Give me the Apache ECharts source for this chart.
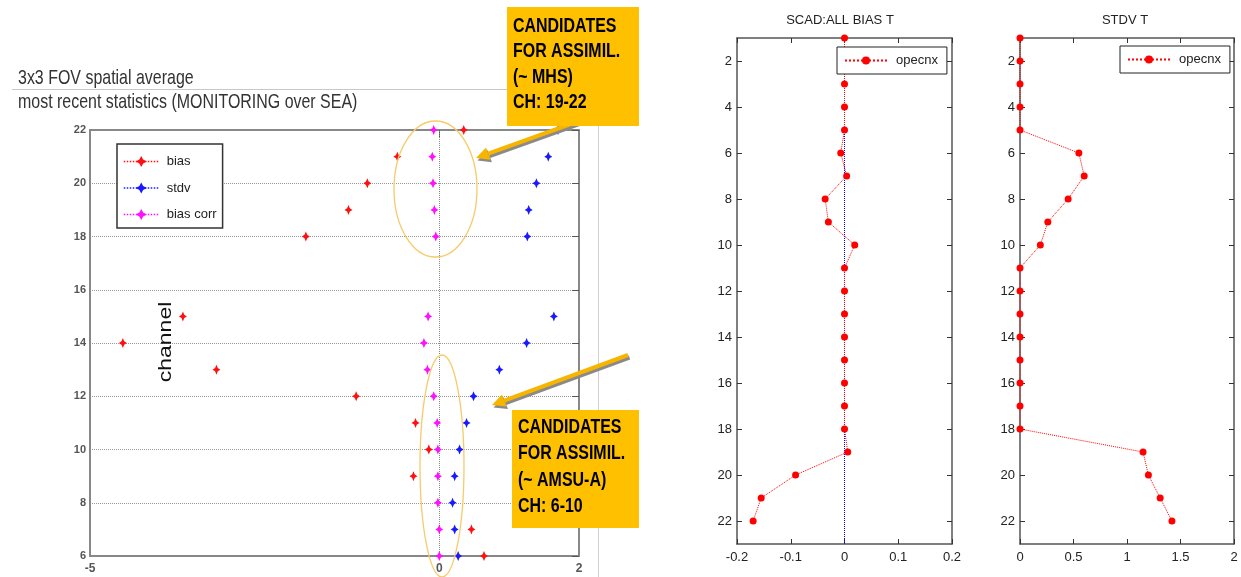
<!DOCTYPE html>
<html><head><meta charset="utf-8">
<script src="https://cdn.jsdelivr.net/npm/echarts@6/dist/echarts.min.js"></script>
<style>html,body{margin:0;padding:0;background:#fff}#c{width:1241px;height:577px}</style>
</head><body><div id="c"></div>
<script>
// ---- Left chart (3x3 FOV spatial average) ----
const leftChannels = [6,7,8,9,10,11,12,13,14,15,16,17,18,19,20,21,22];
const biasVals     = [0.64,0.46,null,-0.37,-0.15,-0.34,-1.19,-3.19,-4.53,-3.67,null,null,-1.91,-1.30,-1.03,-0.60,0.35];
const stdvVals     = [0.27,0.22,0.19,0.22,0.29,0.39,0.49,0.86,1.25,1.64,null,null,1.26,1.28,1.39,1.56,1.70];
const biasCorrVals = [0.00,0.00,-0.02,-0.02,-0.02,-0.03,-0.08,-0.17,-0.22,-0.16,null,null,-0.05,-0.07,-0.09,-0.10,-0.08];
const leftXTicks = [-5,0,2];
const leftYTicks = [6,8,10,12,14,16,18,20,22];

// ---- Right charts ----
const rightChannels = [1,2,3,4,5,6,7,8,9,10,11,12,13,14,15,16,17,18,19,20,21,22];
const scadBias = [0,0,0,0,0,-0.007,0.004,-0.036,-0.030,0.019,0,0,0,0,0,0,0,0,0.006,-0.091,-0.155,-0.170];
const stdvT    = [0,0,0,0,0,0.55,0.60,0.45,0.26,0.19,0,0,0,0,0,0,0,0,1.15,1.20,1.31,1.42];
const rightYTicks = [2,4,6,8,10,12,14,16,18,20,22];

const FONT = '"Liberation Sans", Arial, sans-serif';
const pairs = (xs, ys) => ys.map((c, i) => xs[i] == null ? null : [xs[i], c]);
const star = 'path://M0,-10 L3.4,-3.4 L10,0 L3.4,3.4 L0,10 L-3.4,3.4 L-10,0 L-3.4,-3.4 Z';

const chart = echarts.init(document.getElementById('c'), null, {renderer: 'canvas'});

function frameAxis(extra) {
  return Object.assign({
    axisLine: {show: true, onZero: false, lineStyle: {color: '#555', width: 1.5}},
    axisTick: {show: true, inside: true, length: 5, lineStyle: {color: '#333'}},
    splitLine: {show: false}
  }, extra);
}

function arrow(x1, y1, x2, y2) {
  const a = Math.atan2(y2 - y1, x2 - x1);
  const L = 13, W = 6.5;
  const bx = x2 - L * Math.cos(a), by = y2 - L * Math.sin(a);
  const px = -Math.sin(a), py = Math.cos(a);
  const head = (dx, dy) => [[x2 + dx, y2 + dy], [bx + W * px + dx, by + W * py + dy], [bx - W * px + dx, by - W * py + dy]];
  return [
    {type: 'line', shape: {x1: x1 + 1.5, y1: y1 + 2.5, x2: bx + 1.5, y2: by + 2.5}, style: {stroke: '#8a8a8a', lineWidth: 4}, z: 20},
    {type: 'polygon', shape: {points: head(1.5, 2.5)}, style: {fill: '#8a8a8a'}, z: 20},
    {type: 'line', shape: {x1: x1, y1: y1, x2: bx, y2: by}, style: {stroke: '#F7B500', lineWidth: 4}, z: 21},
    {type: 'polygon', shape: {points: head(0, 0)}, style: {fill: '#F7B500'}, z: 21}
  ];
}

const calloutStyle = (text, lh) => ({
  text: text, font: 'bold 21px ' + FONT, fill: '#000', lineHeight: lh,
  verticalAlign: 'top', textVerticalAlign: 'top', align: 'left',
  textShadowColor: 'rgba(255,255,255,0.85)', textShadowOffsetX: 1, textShadowOffsetY: 1, textShadowBlur: 0
});

const option = {
  backgroundColor: '#fff',
  animation: false,
  grid: [
    {left: 90, top: 130, width: 489, height: 426},
    {left: 737, top: 38, width: 215, height: 506},
    {left: 1020, top: 38, width: 214, height: 506}
  ],
  xAxis: [
    frameAxis({type: 'value', gridIndex: 0, min: -5, max: 2, position: 'bottom',
      axisLine: {show: true, onZero: false, lineStyle: {color: '#888', width: 2}},
      axisTick: {show: false},
      axisLabel: {customValues: leftXTicks, color: '#555', fontSize: 12, fontWeight: 'bold', fontFamily: FONT, margin: 7}}),
    frameAxis({type: 'value', gridIndex: 0, min: -5, max: 2, position: 'top',
      axisLine: {show: true, onZero: false, lineStyle: {color: '#888', width: 2}},
      axisTick: {show: true, inside: true, length: 7, customValues: [0], lineStyle: {color: '#555'}},
      axisLabel: {show: false}}),
    frameAxis({type: 'value', gridIndex: 1, min: -0.2, max: 0.2, interval: 0.1, position: 'bottom',
      axisLabel: {color: '#222', fontSize: 13, fontFamily: FONT, margin: 7}}),
    frameAxis({type: 'value', gridIndex: 1, min: -0.2, max: 0.2, interval: 0.1, position: 'top', axisLabel: {show: false}}),
    frameAxis({type: 'value', gridIndex: 2, min: 0, max: 2, interval: 0.5, position: 'bottom',
      axisLabel: {color: '#222', fontSize: 13, fontFamily: FONT, margin: 7}}),
    frameAxis({type: 'value', gridIndex: 2, min: 0, max: 2, interval: 0.5, position: 'top', axisLabel: {show: false}})
  ],
  yAxis: [
    frameAxis({type: 'value', gridIndex: 0, min: 6, max: 22, interval: 2, position: 'left',
      axisLine: {show: true, onZero: false, lineStyle: {color: '#888', width: 2}},
      axisTick: {show: false},
      axisLabel: {color: '#555', fontSize: 11, fontWeight: 'bold', fontFamily: FONT, margin: 4},
      splitLine: {show: true, lineStyle: {color: '#999', type: 'dotted', width: 1}}}),
    frameAxis({type: 'value', gridIndex: 0, min: 6, max: 22, interval: 2, position: 'right',
      axisLine: {show: true, onZero: false, lineStyle: {color: '#888', width: 2}},
      axisTick: {show: true, inside: true, length: 7, lineStyle: {color: '#555'}},
      axisLabel: {show: false}}),
    frameAxis({type: 'value', gridIndex: 1, min: 1, max: 23, inverse: true, position: 'left',
      axisTick: {show: true, inside: true, length: 5, customValues: rightYTicks, lineStyle: {color: '#333'}},
      axisLabel: {customValues: rightYTicks, color: '#222', fontSize: 13, fontFamily: FONT, margin: 5}}),
    frameAxis({type: 'value', gridIndex: 1, min: 1, max: 23, inverse: true, position: 'right',
      axisTick: {show: true, inside: true, length: 5, customValues: rightYTicks, lineStyle: {color: '#333'}},
      axisLabel: {show: false}}),
    frameAxis({type: 'value', gridIndex: 2, min: 1, max: 23, inverse: true, position: 'left',
      axisTick: {show: true, inside: true, length: 5, customValues: rightYTicks, lineStyle: {color: '#333'}},
      axisLabel: {customValues: rightYTicks, color: '#222', fontSize: 13, fontFamily: FONT, margin: 5}}),
    frameAxis({type: 'value', gridIndex: 2, min: 1, max: 23, inverse: true, position: 'right',
      axisTick: {show: true, inside: true, length: 5, customValues: rightYTicks, lineStyle: {color: '#333'}},
      axisLabel: {show: false}})
  ],
  legend: [
    {data: ['bias', 'stdv', 'bias corr'], orient: 'vertical', left: 117, top: 144, z: 10,
      padding: [11, 6, 7, 6], itemGap: 13.5, itemWidth: 35, itemHeight: 14,
      backgroundColor: '#fff', borderColor: '#333', borderWidth: 1.5, borderRadius: 0,
      lineStyle: {opacity: 1, type: 'dotted', width: 1.5},
      textStyle: {fontSize: 13, color: '#222', fontFamily: FONT, padding: [0, 0, 0, 3]}, selectedMode: false},
    {data: ['opecnx'], left: 837, top: 47, z: 10, padding: [7, 9, 7, 7], itemWidth: 42, itemHeight: 10,
      backgroundColor: '#fff', borderColor: '#222', borderWidth: 1, borderRadius: 0,
      textStyle: {fontSize: 13, color: '#222', fontFamily: FONT, padding: [0, 0, 0, 4]}, selectedMode: false},
    {data: ['opecnx'], left: 1120, top: 46, z: 10, padding: [7, 9, 7, 7], itemWidth: 42, itemHeight: 10,
      backgroundColor: '#fff', borderColor: '#222', borderWidth: 1, borderRadius: 0,
      textStyle: {fontSize: 13, color: '#222', fontFamily: FONT, padding: [0, 0, 0, 4]}, selectedMode: false}
  ],
  series: [
    {name: 'bias', type: 'line', xAxisIndex: 0, yAxisIndex: 0, data: pairs(biasVals, leftChannels),
      symbol: star, symbolSize: [8, 10], color: '#ff0000', itemStyle: {color: '#ff1010'},
      lineStyle: {opacity: 0, type: 'dotted'}, connectNulls: false, z: 5,
      markLine: {silent: true, symbol: 'none', label: {show: false},
        lineStyle: {color: '#888', type: 'dotted', width: 1}, data: [{xAxis: 0}]}},
    {name: 'stdv', type: 'line', xAxisIndex: 0, yAxisIndex: 0, data: pairs(stdvVals, leftChannels),
      symbol: star, symbolSize: [8, 10], color: '#0000ff', itemStyle: {color: '#1a1aff'},
      lineStyle: {opacity: 0, type: 'dotted'}, connectNulls: false, z: 5},
    {name: 'bias corr', type: 'line', xAxisIndex: 0, yAxisIndex: 0, data: pairs(biasCorrVals, leftChannels),
      symbol: star, symbolSize: [8, 10], color: '#ff00ff', itemStyle: {color: '#ff10ff'},
      lineStyle: {opacity: 0, type: 'dotted'}, connectNulls: false, z: 6},
    {name: 'opecnx', type: 'line', xAxisIndex: 2, yAxisIndex: 2, data: pairs(scadBias, rightChannels),
      symbol: 'circle', symbolSize: 7, color: '#ff0000', itemStyle: {color: '#ff0000'},
      lineStyle: {color: '#ff0000', type: 'dotted', width: 1}, z: 5,
      markLine: {silent: true, symbol: 'none', label: {show: false}, z: 3,
        lineStyle: {color: '#0000ff', type: 'dotted', width: 1}, data: [{xAxis: 0}]}},
    {name: 'opecnx', type: 'line', xAxisIndex: 4, yAxisIndex: 4, data: pairs(stdvT, rightChannels),
      symbol: 'circle', symbolSize: 7, color: '#ff0000', itemStyle: {color: '#ff0000'},
      lineStyle: {color: '#ff0000', type: 'dotted', width: 1}, z: 5}
  ],
  graphic: {elements: [
    // panel frame of the left screenshot
    {type: 'line', shape: {x1: 12, y1: 89.5, x2: 598, y2: 89.5}, style: {stroke: '#c8c8c8', lineWidth: 1}, z: 1},
    {type: 'line', shape: {x1: 598.5, y1: 89, x2: 598.5, y2: 577}, style: {stroke: '#d0d0d0', lineWidth: 1}, z: 1},
    // left titles
    {type: 'text', x: 18, y: 68, scaleX: 0.76, z: 10,
      style: {text: '3x3 FOV spatial average', font: '21px ' + FONT, fill: '#333', verticalAlign: 'top', textVerticalAlign: 'top'}},
    {type: 'text', x: 18, y: 92, scaleX: 0.76, z: 10,
      style: {text: 'most recent statistics (MONITORING over SEA)', font: '21px ' + FONT, fill: '#333', verticalAlign: 'top', textVerticalAlign: 'top'}},
    // channel label
    {type: 'text', x: 166, y: 342, rotation: Math.PI / 2, scaleY: 0.8, z: 10,
      style: {text: 'channel', font: '23px ' + FONT, fill: '#111', align: 'center', textAlign: 'center', verticalAlign: 'middle', textVerticalAlign: 'middle'}},
    // ellipses
    {type: 'ellipse', shape: {cx: 435.5, cy: 189, rx: 41.5, ry: 68}, style: {fill: 'none', stroke: '#F6CB6A', lineWidth: 1.3}, z: 8},
    {type: 'ellipse', shape: {cx: 442, cy: 466, rx: 22, ry: 111}, style: {fill: 'none', stroke: '#F6CB6A', lineWidth: 1.3}, z: 8},
    // arrows
    ...arrow(600, 113.5, 476, 158),
    ...arrow(628, 355, 492, 405),
    // callout boxes
    {type: 'rect', shape: {x: 507, y: 7, width: 132, height: 119}, style: {fill: '#FFC000'}, z: 30},
    {type: 'text', x: 513, y: 13.5, scaleX: 0.76, z: 31, style: calloutStyle('CANDIDATES\nFOR ASSIMIL.\n(~ MHS)\nCH: 19-22', 25.3)},
    {type: 'rect', shape: {x: 512, y: 410, width: 127, height: 118}, style: {fill: '#FFC000'}, z: 30},
    {type: 'text', x: 518, y: 413.5, scaleX: 0.76, z: 31, style: calloutStyle('CANDIDATES\nFOR ASSIMIL.\n(~ AMSU-A)\nCH: 6-10', 26.6)},
    // right titles
    {type: 'text', x: 840, y: 20, z: 10,
      style: {text: 'SCAD:ALL BIAS T', font: '13px ' + FONT, fill: '#222', align: 'center', textAlign: 'center', verticalAlign: 'middle', textVerticalAlign: 'middle'}},
    {type: 'text', x: 1125, y: 20, z: 10,
      style: {text: 'STDV T', font: '13px ' + FONT, fill: '#222', align: 'center', textAlign: 'center', verticalAlign: 'middle', textVerticalAlign: 'middle'}}
  ]}
};
chart.setOption(option);
</script></body></html>
